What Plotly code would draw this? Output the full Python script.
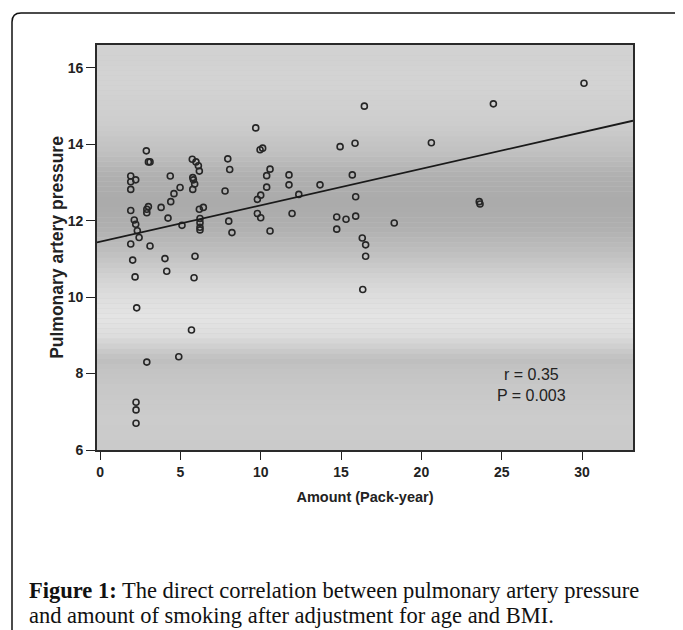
import numpy as np
import plotly.graph_objects as go

# ---- data ----
pack_years = [2.88, 3.01, 3.11, 1.91, 1.91, 2.22, 1.91, 4.37, 4.98, 4.60,
              4.40, 3.80, 4.23, 3.01, 2.91, 2.91, 1.91, 2.13, 2.22, 2.32,
              2.43, 5.74, 5.97, 6.12, 6.18, 5.77, 5.81, 5.89, 5.77, 6.18,
              6.43, 6.22, 6.22, 6.22, 6.22, 5.10, 7.95, 8.07, 7.78, 8.01,
              8.21, 9.69, 9.96, 10.12, 10.58, 10.37, 10.37, 10.00, 9.79, 9.79,
              10.00, 10.58, 11.76, 11.76, 12.37, 11.95, 13.69, 14.94, 15.87, 14.73,
              14.73, 15.70, 15.91, 15.31, 15.91, 16.32, 16.53, 16.53, 16.35, 16.45,
              20.62, 18.31, 23.60, 23.65, 24.48, 30.12,
              1.91, 3.11, 2.03, 4.04, 5.91, 2.18, 4.15, 5.85, 2.28, 5.69,
              4.90, 2.91, 2.24, 2.24, 2.24]
pressure = [13.83, 13.54, 13.54, 13.17, 13.02, 13.07, 12.82, 13.17, 12.87, 12.71,
            12.50, 12.35, 12.07, 12.37, 12.30, 12.21, 12.27, 12.02, 11.91, 11.74,
            11.56, 13.61, 13.54, 13.44, 13.30, 13.13, 13.07, 12.96, 12.82, 12.30,
            12.35, 12.06, 11.95, 11.83, 11.76, 11.88, 13.62, 13.34, 12.78, 11.99,
            11.69, 14.43, 13.86, 13.90, 13.35, 13.18, 12.88, 12.67, 12.56, 12.19,
            12.08, 11.73, 13.20, 12.94, 12.69, 12.19, 12.94, 13.94, 14.03, 12.10,
            11.78, 13.20, 12.63, 12.04, 12.12, 11.55, 11.37, 11.07, 10.20, 15.00,
            14.04, 11.94, 12.50, 12.44, 15.06, 15.60,
            11.39, 11.34, 10.97, 11.01, 11.07, 10.53, 10.68, 10.51, 9.72, 9.14,
            8.44, 8.30, 7.25, 7.05, 6.70]

reg_intercept = 11.45
reg_slope = 0.0955

x_ticks = [0, 5, 10, 15, 20, 25, 30]
y_ticks = [6, 8, 10, 12, 14, 16]
stats_text = ["r = 0.35", "P = 0.003"]
x_title = "Amount (Pack-year)"
y_title = "Pulmonary artery pressure"
caption_bold = "Figure 1:"
caption_line1 = " The direct correlation between pulmonary artery pressure"
caption_line2 = "and amount of smoking after adjustment for age and BMI."

# ---- styling ----
X_RANGE = [-0.19, 33.17]
Y_RANGE = [6.0, 16.6]
OFF = 8                      # default page body margin
W, H = 683 - OFF, 630 - OFF
ML, MR, MT, MB = 97 - OFF, 50, 45 - OFF, 180
PW, PH = W - ML - MR, H - MT - MB


def px_x(p):
    """window pixel x -> paper coordinate"""
    return (p - OFF - ML) / PW


def px_y(q):
    """window pixel y -> paper coordinate"""
    return (H - MB - (q - OFF)) / PH


# background gray bands (scanned gradient look)
grad_y = [6.0, 6.8, 7.6, 8.1, 8.35, 8.6, 9.0, 9.5, 10.0, 10.6, 11.2, 11.8,
          12.5, 13.2, 13.8, 14.5, 15.5, 16.6]
grad_g = [202, 204, 200, 196, 190, 202, 222, 228, 222, 208, 190, 176,
          170, 176, 192, 205, 211, 210]

fig = go.Figure()

shapes = []
edges = np.linspace(Y_RANGE[0], Y_RANGE[1], 81)
for a, b in zip(edges[:-1], edges[1:]):
    g = int(round(np.interp((a + b) / 2, grad_y, grad_g)))
    shapes.append(dict(type="rect", xref="paper", yref="y", x0=0, x1=1,
                       y0=a, y1=b, fillcolor=f"rgb({g},{g},{g})",
                       line=dict(width=0), layer="below"))

# page frame (top and left lines with rounded corner)
fx0, fx1, fx2 = px_x(12), px_x(21), px_x(683)
fy0, fy1, fy2 = px_y(632), px_y(22), px_y(13)
shapes.append(dict(type="path", xref="paper", yref="paper",
                   path=f"M {fx0} {fy0} L {fx0} {fy1} Q {fx0} {fy2} {fx1} {fy2} L {fx2} {fy2}",
                   line=dict(color="#111111", width=1.5)))

fig.add_trace(go.Scatter(
    x=pack_years, y=pressure, mode="markers",
    marker=dict(symbol="circle-open", size=6, color="#262626",
                line=dict(width=1.6)),
    hoverinfo="x+y", showlegend=False))

line_x = np.array(X_RANGE)
fig.add_trace(go.Scatter(
    x=line_x, y=reg_intercept + reg_slope * line_x, mode="lines",
    line=dict(color="#1a1a1a", width=1.8), hoverinfo="skip", showlegend=False))

stat_font = dict(family="Liberation Sans, Arial", size=16, color="#222222")
serif = dict(family="Liberation Serif, Times New Roman, serif", size=22.5, color="#111111")
annotations = [
    dict(x=px_x(531), y=px_y(385), xref="paper", yref="paper", showarrow=False,
         xanchor="center", yanchor="middle", align="center",
         text="<br>".join(stats_text), font=stat_font),
    dict(x=px_x(27), y=px_y(590), xref="paper", yref="paper", showarrow=False,
         xanchor="left", yanchor="middle",
         text=f"<b>{caption_bold}</b>{caption_line1}", font=serif),
    dict(x=px_x(27), y=px_y(615), xref="paper", yref="paper", showarrow=False,
         xanchor="left", yanchor="middle", text=caption_line2, font=serif),
]

tick_font = dict(family="Liberation Sans, Arial", size=14, color="#222222", weight="bold")
xt_font = dict(family="Liberation Sans, Arial", size=14.5, color="#222222", weight="bold")
yt_font = dict(family="Liberation Sans, Arial", size=17.5, color="#222222", weight="bold")

fig.update_layout(
    width=W, height=H,
    margin=dict(l=ML, r=MR, t=MT, b=MB, pad=0),
    paper_bgcolor="white", plot_bgcolor="rgb(200,200,200)",
    shapes=shapes, annotations=annotations,
    xaxis=dict(range=X_RANGE, tickvals=x_ticks, ticks="outside", ticklen=8,
               tickwidth=1.3, tickcolor="#222222", showgrid=False, zeroline=False,
               showline=True, mirror=True, linecolor="#2a2a2a", linewidth=1.6,
               tickfont=tick_font,
               title=dict(text=x_title, font=xt_font, standoff=13)),
    yaxis=dict(range=Y_RANGE, tickvals=y_ticks, ticks="outside", ticklen=9,
               tickwidth=1.3, tickcolor="#222222", showgrid=False, zeroline=False,
               showline=True, mirror=True, linecolor="#2a2a2a", linewidth=1.6,
               tickfont=tick_font,
               title=dict(text=y_title, font=yt_font, standoff=0)),
)

fig.write_html("out.html")
